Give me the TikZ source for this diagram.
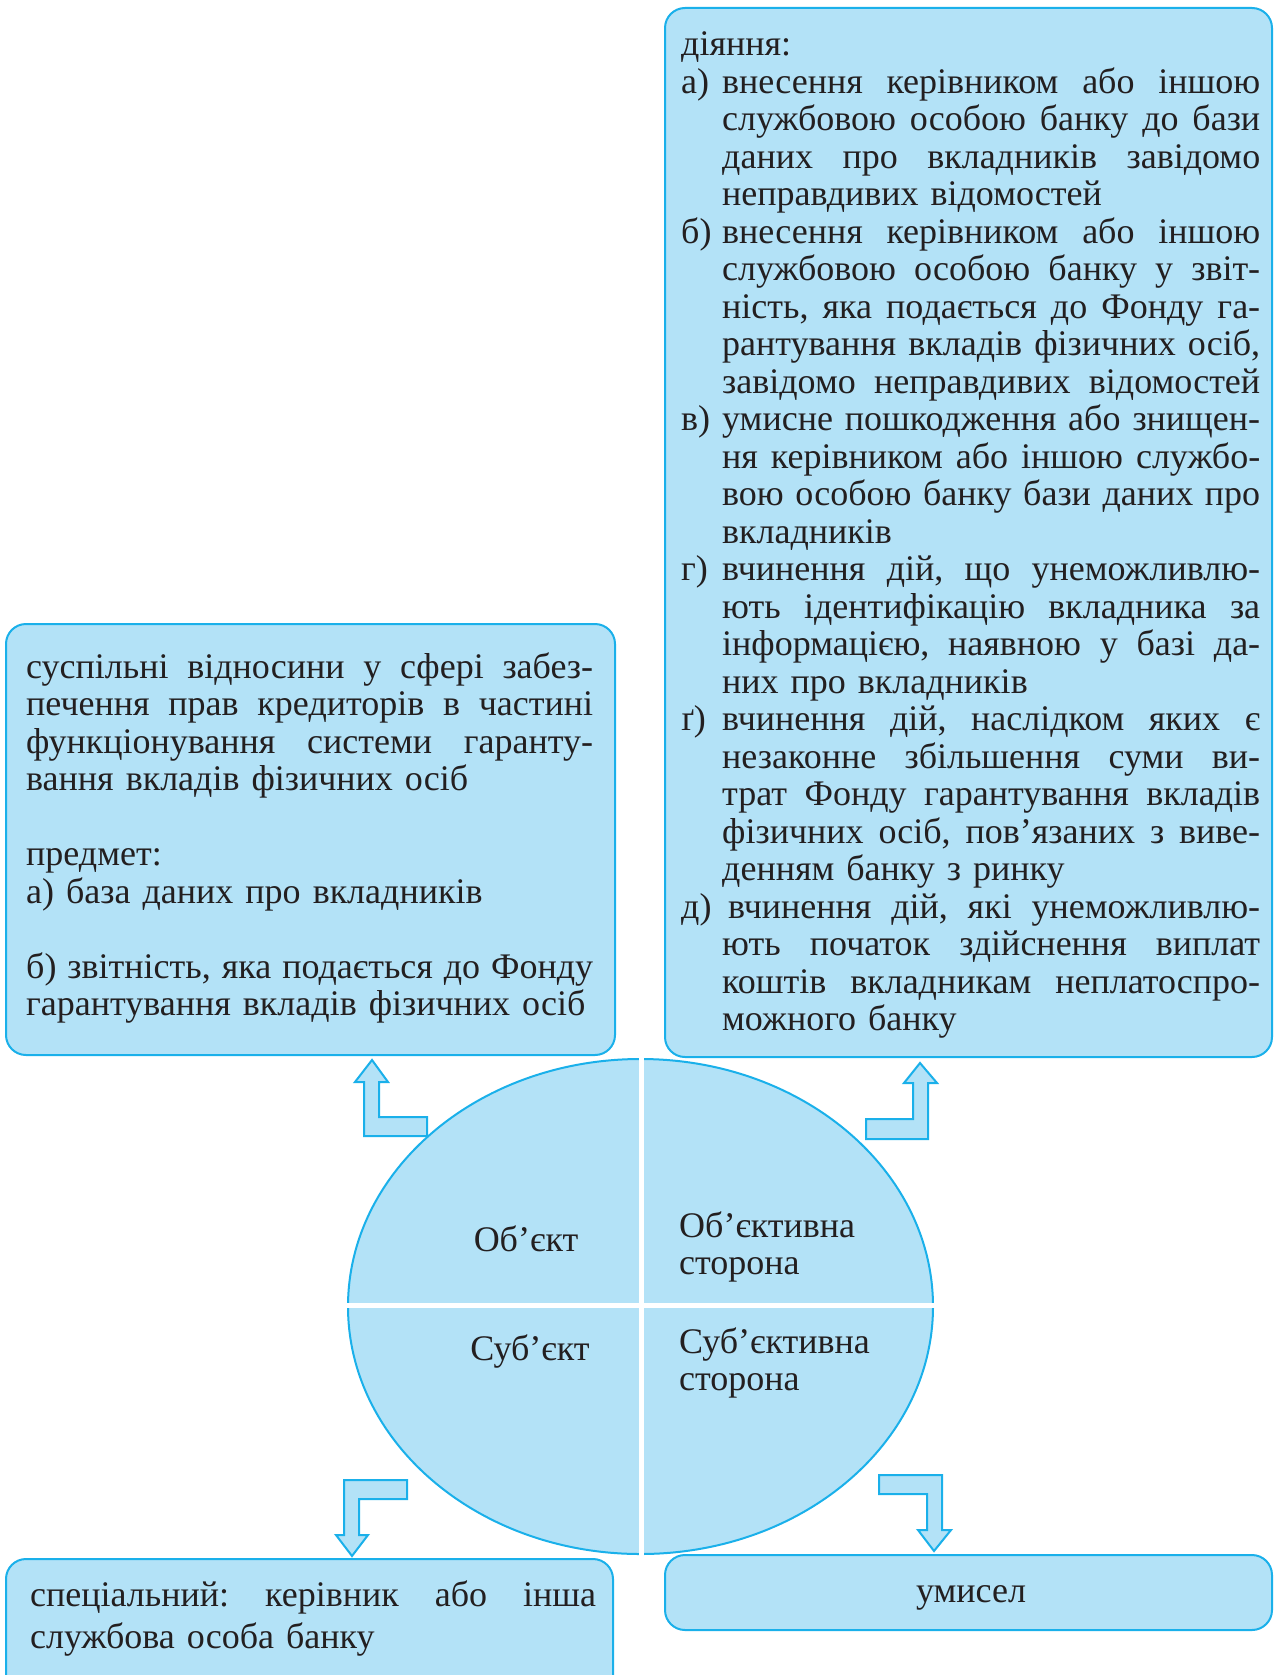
\documentclass[tikz,border=0pt]{standalone}
\usepackage{fontspec}
\setmainfont{Liberation Serif}
\usetikzlibrary{shapes.geometric}
\definecolor{fillb}{HTML}{B3E2F7}
\definecolor{lineb}{HTML}{1AB0EA}
\definecolor{txt}{HTML}{231F20}
\newcommand{\bodyfont}{\fontsize{36pt}{37.5pt}\selectfont}
\newcommand{\jl}[2][538pt]{\leavevmode\hbox to #1{\frenchspacing\spaceskip=0.25em plus 1fil minus 0.08em\xspaceskip=\spaceskip\relax #2}}
\newcommand{\lb}[1]{\makebox[41pt][l]{#1}}
\newcommand{\ind}{\hspace*{41pt}}
\begin{document}
\begin{tikzpicture}[x=1pt,y=-1pt,
  box/.style={draw=lineb, fill=fillb, line width=2pt, rounded corners=20pt, inner sep=0pt},
  arr/.style={draw=lineb, fill=fillb, line width=2pt, line join=miter},
  txtn/.style={inner sep=0pt, text=txt, font=\bodyfont, align=left},
  lbl/.style={inner sep=0pt, text=txt, font=\bodyfont}]
\clip (0,0) rectangle (1274,1675);
\fill[white] (0,0) rectangle (1274,1675);

% boxes
\node[box, minimum width=609pt, minimum height=431pt] (lbox) at (310.5,839.5) {};
\node[box, minimum width=607pt, minimum height=1049pt] (rbox) at (968.5,532.5) {};
\node[box, minimum width=607pt, minimum height=161pt] (blbox) at (309.5,1639.5) {};
\node[box, minimum width=607pt, minimum height=75pt] (brbox) at (968.5,1592.5) {};

% ellipse
\node[ellipse, draw=lineb, fill=fillb, line width=2pt, minimum width=585pt, minimum height=495pt, inner sep=0pt] (ell) at (640.5,1306.5) {};
\draw[white, line width=5pt] (641,1057) -- (641,1558);
\draw[white, line width=5pt] (345,1305) -- (937,1305);

% block arrows
\draw[arr] (372,1060) -- (388,1082) -- (379,1082) -- (379,1117) -- (427,1117) -- (427,1136) -- (364,1136) -- (364,1082) -- (355,1082) -- cycle;
\draw[arr] (920,1063) -- (937,1083) -- (928,1083) -- (928,1139) -- (866,1139) -- (866,1119) -- (913,1119) -- (913,1083) -- (904,1083) -- cycle;
\draw[arr] (407,1480) -- (407,1499) -- (359,1499) -- (359,1535) -- (368,1535) -- (352,1556) -- (336,1535) -- (344,1535) -- (344,1480) -- cycle;
\draw[arr] (879,1475) -- (942,1475) -- (942,1530) -- (951,1530) -- (934,1551) -- (918,1530) -- (927,1530) -- (927,1494) -- (879,1494) -- cycle;

% ellipse labels
\node[lbl, anchor=base] (obj) at (526,1251) {Об’єкт};
\node[txtn, anchor=base west, text width=250pt] (objside) at (679,1237) {Об’єктивна\\сторона};
\node[lbl, anchor=base] (subj) at (530,1360) {Суб’єкт};
\node[txtn, anchor=base west, text width=250pt] (subjside) at (679,1353) {Суб’єктивна\\сторона};

% left box text
\node[txtn, anchor=base west, text width=580pt] (ltext) at (26,678) {%
\jl[567pt]{суспільні відносини у сфері забез-}\\
\jl[567pt]{печення прав кредиторів в частині}\\
\jl[567pt]{функціонування системи гаранту-}\\
вання вкладів фізичних осіб\\
\mbox{}\\
предмет:\\
а) база даних про вкладників\\
\mbox{}\\
\jl[567pt]{б) звітність, яка подається до Фонду}\\
гарантування вкладів фізичних осіб};

% right box text
\node[txtn, anchor=base west, text width=590pt] (rtext) at (681,56) {%
діяння:\\
\lb{а)}\jl{внесення керівником або іншою}\\
\ind\jl{службовою особою банку до бази}\\
\ind\jl{даних про вкладників завідомо}\\
\ind неправдивих відомостей\\
\lb{б)}\jl{внесення керівником або іншою}\\
\ind\jl{службовою особою банку у звіт-}\\
\ind\jl{ність, яка подається до Фонду га-}\\
\ind\jl{рантування вкладів фізичних осіб,}\\
\ind\jl{завідомо неправдивих відомостей}\\
\lb{в)}\jl{умисне пошкодження або знищен-}\\
\ind\jl{ня керівником або іншою службо-}\\
\ind\jl{вою особою банку бази даних про}\\
\ind вкладників\\
\lb{г)}\jl{вчинення дій, що унеможливлю-}\\
\ind\jl{ють ідентифікацію вкладника за}\\
\ind\jl{інформацією, наявною у базі да-}\\
\ind них про вкладників\\
\lb{ґ)}\jl{вчинення дій, наслідком яких є}\\
\ind\jl{незаконне збільшення суми ви-}\\
\ind\jl{трат Фонду гарантування вкладів}\\
\ind\jl{фізичних осіб, пов’язаних з виве-}\\
\ind денням банку з ринку\\
\lb{д)}\jl{\hspace*{6pt}вчинення дій, які унеможливлю-}\\
\ind\jl{ють початок здійснення виплат}\\
\ind\jl{коштів вкладникам неплатоспро-}\\
\ind можного банку};

% bottom texts
\node[txtn, anchor=base west, text width=580pt, font=\fontsize{36pt}{42pt}\selectfont] (bltext) at (30,1606) {%
\jl[566pt]{спеціальний: керівник або інша}\\
службова особа банку};
\node[lbl, anchor=base] (brtext) at (971,1602) {умисел};
\end{tikzpicture}
\end{document}
